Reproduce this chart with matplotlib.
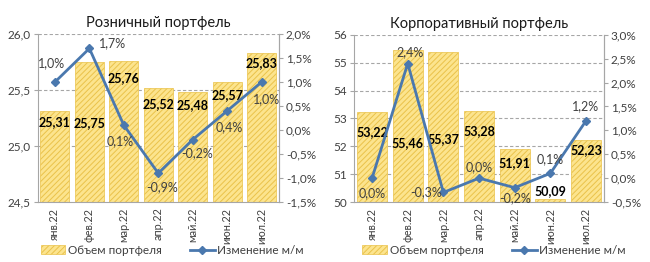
import matplotlib
matplotlib.use("Agg")
import matplotlib.pyplot as plt
from matplotlib.ticker import FuncFormatter
from matplotlib.patches import Patch
from matplotlib.lines import Line2D

plt.rcParams['font.family'] = ['Lato', 'Open Sans', 'DejaVu Sans']
plt.rcParams['hatch.linewidth'] = 0.7
plt.rcParams['hatch.color'] = '#EAC24A'

months = ["янв.22", "фев.22", "мар.22", "апр.22", "май.22", "июн.22", "июл.22"]

retail_volume = [25.31, 25.75, 25.76, 25.52, 25.48, 25.57, 25.83]
retail_change = [1.0, 1.7, 0.1, -0.9, -0.2, 0.4, 1.0]

corp_volume = [53.22, 55.46, 55.37, 53.28, 51.91, 50.09, 52.23]
corp_change = [0.0, 2.4, -0.3, 0.0, -0.2, 0.1, 1.2]

# label placement (pixel offsets), styling only
retail_bar_dy = [-11, -61, -17, -16, -13, -13, -10]
retail_pct_off = [(-3, 19), (23, 5), (-4, -16), (4, -14), (4, -14), (2, -16), (5, -17)]
corp_bar_dy = [-20, -93, -87, -20, -14, 8, -10]
corp_pct_off = [(0, -15), (2, 11), (-17, 0), (0, 11), (0, -10), (0, 14), (0, 15)]

BAR_FACE = '#FCE48E'
BAR_EDGE = '#EAC24A'
LINE_C = '#4A78AE'
TXT = '#404040'
GRID = '#A6A6A6'
FS_TICK = 8.5
FS_LBL = 9

fig = plt.figure(figsize=(6.5, 2.62), dpi=100)


def comma(v, dec):
    return f"{v:.{dec}f}".replace('.', ',')


def draw(rect, title, vol, chg, ylim, ystep, ydec, y2lim, y2step, bar_dy, pct_off):
    ax = fig.add_axes(rect)
    x = list(range(len(months)))
    ax.bar(x, [v - ylim[0] for v in vol], bottom=ylim[0], width=0.84,
           facecolor=BAR_FACE, edgecolor=BAR_EDGE, hatch='//////', linewidth=0.5, zorder=2)
    ax.set_xlim(-0.5, len(months) - 0.5)
    ax.set_ylim(*ylim)
    yt = []
    v = ylim[0]
    while v <= ylim[1] + 1e-9:
        yt.append(round(v, 4))
        v += ystep
    ax.set_yticks(yt)
    ax.yaxis.set_major_formatter(FuncFormatter(lambda val, p: comma(val, ydec)))
    for t in yt[1:]:
        ax.axhline(t, color=GRID, linestyle=(0, (3, 2)), linewidth=0.8, zorder=1)
    ax.set_xticks(x)
    ax.set_xticklabels(months, rotation=90, fontsize=7.8, color=TXT)
    ax.tick_params(axis='x', length=0, pad=4)
    ax.tick_params(axis='y', labelsize=FS_TICK, labelcolor=TXT, color=GRID, length=3, pad=2)
    ax.spines['top'].set_visible(False)
    for s in ['left', 'bottom', 'right']:
        ax.spines[s].set_color(GRID)
        ax.spines[s].set_linewidth(0.8)
    ax.set_title(title, fontsize=10.5, color='#1a1a1a', pad=5)

    for i, val in enumerate(vol):
        ax.annotate(comma(val, 2), (i, val), xytext=(0, bar_dy[i]), textcoords='offset pixels',
                    ha='center', va='center', fontsize=FS_LBL, fontweight='bold', color='black', zorder=5)

    ax2 = ax.twinx()
    ax2.set_ylim(*y2lim)
    yt2 = []
    v = y2lim[0]
    while v <= y2lim[1] + 1e-9:
        yt2.append(round(v, 4))
        v += y2step
    ax2.set_yticks(yt2)
    ax2.yaxis.set_major_formatter(FuncFormatter(lambda val, p: comma(val, 1) + '%'))
    ax2.tick_params(axis='y', labelsize=FS_TICK, labelcolor=TXT, color=GRID, length=3, pad=2)
    for s in ['top', 'left', 'bottom']:
        ax2.spines[s].set_visible(False)
    ax2.spines['right'].set_color(GRID)
    ax2.spines['right'].set_linewidth(0.8)
    ax2.plot(x, chg, color=LINE_C, linewidth=2, marker='D', markersize=4.5, zorder=4)
    for i, val in enumerate(chg):
        ax2.annotate(comma(val, 1) + '%', (i, val), xytext=pct_off[i], textcoords='offset pixels',
                     ha='center', va='center', fontsize=FS_LBL, color=TXT, zorder=5)
    return ax, ax2


draw([0.058, 0.229, 0.371, 0.641], "Розничный портфель",
     retail_volume, retail_change, (24.5, 26.0), 0.5, 1, (-1.5, 2.0), 0.5,
     retail_bar_dy, retail_pct_off)
draw([0.545, 0.229, 0.384, 0.638], "Корпоративный портфель",
     corp_volume, corp_change, (50, 56), 1, 0, (-0.5, 3.0), 0.5,
     corp_bar_dy, corp_pct_off)

handles = [Patch(facecolor=BAR_FACE, edgecolor=BAR_EDGE, hatch='//////', linewidth=0.5),
           Line2D([0], [0], color=LINE_C, linewidth=2, marker='D', markersize=4.5)]
labels = ["Объем портфеля", "Изменение м/м"]
for cx in [0.265, 0.76]:
    fig.legend(handles, labels, loc='center', bbox_to_anchor=(cx, 0.045), ncol=2, frameon=False,
               fontsize=8.5, handlelength=2.1, handletextpad=0.2, columnspacing=2.4,
               labelcolor=TXT, borderpad=0)

fig.savefig("out.png", dpi=100)
